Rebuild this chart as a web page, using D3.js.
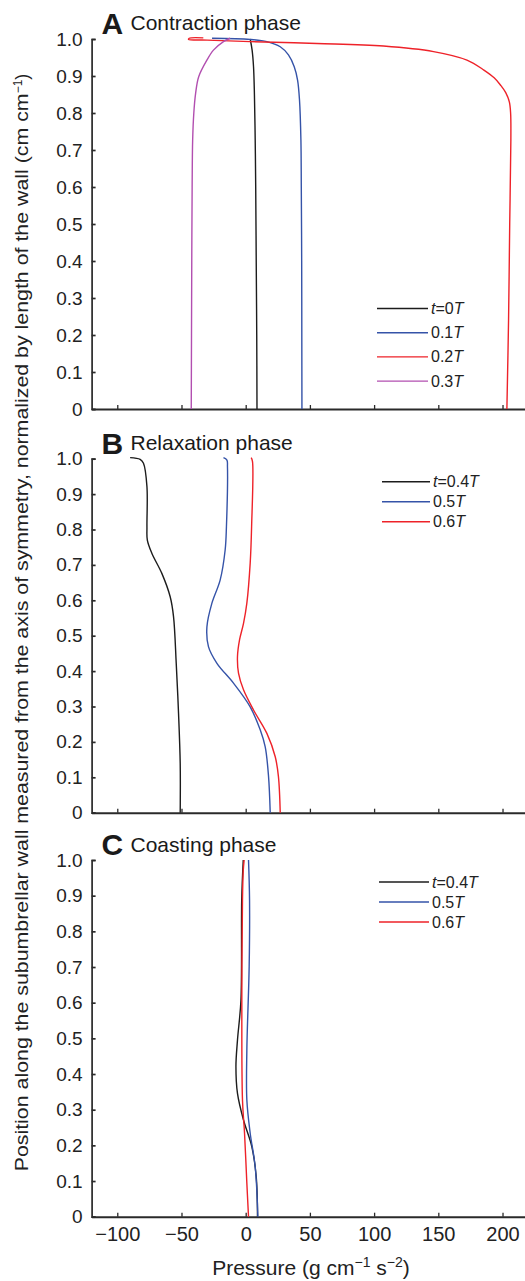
<!DOCTYPE html>
<html><head><meta charset="utf-8">
<script src="https://cdn.jsdelivr.net/npm/d3@7"></script>
<style>
html,body{margin:0;padding:0;background:#fff;}
svg{display:block;font-family:"Liberation Sans",Arial,sans-serif;}
</style></head>
<body>
<svg id="chart" width="525" height="1281"></svg>
<script>
// ---------- DATA ([position, pressure]) ----------
const xTicks = [-100, -50, 0, 50, 100, 150, 200];
const yTicks = [0, 0.1, 0.2, 0.3, 0.4, 0.5, 0.6, 0.7, 0.8, 0.9, 1.0];

const panelTitles = ["Contraction phase", "Relaxation phase", "Coasting phase"];
const panelLetters = ["A", "B", "C"];

const legendA = [["t", "=0", "T"], ["", "0.1", "T"], ["", "0.2", "T"], ["", "0.3", "T"]];
const legendB = [["t", "=0.4", "T"], ["", "0.5", "T"], ["", "0.6", "T"]];
const legendC = [["t", "=0.4", "T"], ["", "0.5", "T"], ["", "0.6", "T"]];

// Panel A: contraction
const contractT0 = [[0,8.8],[0.2,8.6],[0.4,8.2],[0.6,7.8],[0.727,7.4],[0.85,6.8],[0.925,6.1],[0.97,5],[1.0,3.5]];
const contractT1 = [[0,43.8],[0.2,43.7],[0.4,43.6],[0.6,43.3],[0.727,43.0],[0.835,41.9],[0.889,40.4],[0.925,37.8],[0.957,33.3],[0.979,26.9],[0.993,16.5],[0.999,3.5],[1.002,-26.2]];
const contractT2 = [[0,203.4],[0.24,204.7],[0.5,205.6],[0.727,206.5],[0.80,206.3],[0.83,205.3],[0.855,202.5],[0.875,198.5],[0.895,193.5],[0.916,185.5],[0.943,172.3],[0.966,146.3],[0.981,107.3],[0.988,55.5],[0.993,3.5],[0.997,-30],[0.999,-44.5],[1.002,-44],[1.003,-33]];
const contractT3 = [[0,-42.4],[0.2,-42.2],[0.4,-42.0],[0.6,-41.7],[0.727,-41.3],[0.8,-40.4],[0.853,-39.0],[0.898,-36.6],[0.943,-30.2],[0.970,-25.1],[0.993,-17.3],[1.002,-12.1]];

// Panel B: relaxation
const relaxT4 = [[0,-51.0],[0.140,-51.0],[0.281,-52.3],[0.422,-54.1],[0.554,-56.2],[0.610,-58.8],[0.676,-65.3],[0.733,-73.1],[0.770,-76.6],[0.808,-76.9],[0.921,-76.9],[0.987,-79.6],[0.998,-82.2],[1.003,-90]];
const relaxT5 = [[0,19.1],[0.102,17.8],[0.186,15.2],[0.234,11.3],[0.299,3.5],[0.366,-9.5],[0.422,-22.4],[0.469,-29.0],[0.525,-30.2],[0.592,-26.3],[0.657,-19.9],[0.742,-16.0],[0.808,-15.0],[0.977,-14.2],[0.996,-14.6],[1.003,-17.3]];
const relaxT6 = [[0,26.9],[0.102,25.5],[0.158,23.0],[0.224,16.5],[0.290,6.1],[0.347,-1.7],[0.394,-5.6],[0.441,-6.4],[0.488,-4.8],[0.535,-1.7],[0.592,0.9],[0.705,3.5],[0.808,4.6],[0.992,5.3],[1.003,4.3]];

// Panel C: coasting
const coastT4 = [[0,9.2],[0.112,8.2],[0.196,4.8],[0.271,-1.7],[0.346,-6.4],[0.421,-7.6],[0.495,-6.4],[0.607,-3.7],[0.888,-3.1],[1.0,-1.9]];
const coastT5 = [[0,9.5],[0.140,7.4],[0.234,3.5],[0.327,0.9],[0.467,0.9],[0.701,2.7],[0.888,3.0],[1.0,2.2]];
const coastT6 = [[0,2.2],[0.094,0.9],[0.234,-0.9],[0.327,-2.5],[0.607,-3.0],[0.888,-2.5],[0.97,-1.9],[1.0,-1.2]];

const colors = {black:"#1c1c1c", blue:"#3553a8", red:"#ee2229", magenta:"#b24fb0"};

// ---------- LAYOUT ----------
const svg = d3.select("#chart");
const axisColor = "#2a2a2a";
const x = d3.scaleLinear().domain([-120, 220]).range([91.6, 528.2]);

const panels = [
  {top:39, bottom:409, series:[[contractT0,colors.black],[contractT1,colors.blue],[contractT2,colors.red],[contractT3,colors.magenta]],
   legend:legendA, legendColors:[colors.black,colors.blue,colors.red,colors.magenta], legY:308.5, legStep:24.2, legX1:377, legX2:428, titleY:30, letterY:33.5},
  {top:458.7, bottom:812.7, series:[[relaxT4,colors.black],[relaxT5,colors.blue],[relaxT6,colors.red]],
   legend:legendB, legendColors:[colors.black,colors.blue,colors.red], legY:481.7, legStep:20, legX1:382, legX2:430, titleY:450, letterY:453.5},
  {top:860, bottom:1216.7, series:[[coastT4,colors.black],[coastT5,colors.blue],[coastT6,colors.red]],
   legend:legendC, legendColors:[colors.black,colors.blue,colors.red], legY:882, legStep:20, legX1:379, legX2:429, titleY:851.5, letterY:855}
];

panels.forEach((p, i) => {
  const y = d3.scaleLinear().domain([0, 1]).range([p.bottom, p.top]);
  const g = svg.append("g");

  // y axis
  const yAxis = d3.axisLeft(y).tickValues(yTicks).tickSize(-4).tickSizeOuter(-4).tickPadding(9)
    .tickFormat(d => d === 0 ? "0" : d3.format(".1f")(d));
  const ya = g.append("g").attr("transform", `translate(${x.range()[0]},0)`).call(yAxis);
  ya.selectAll("path,line").attr("stroke", axisColor).attr("stroke-width", 1.7);
  ya.selectAll("text").attr("font-size", 19).attr("fill", "#222").attr("font-family", "Liberation Sans, Arial, sans-serif");

  // x axis
  const xAxis = d3.axisBottom(x).tickValues(xTicks).tickSize(-4).tickSizeOuter(0).tickPadding(10)
    .tickFormat(d => d < 0 ? "\u2212" + Math.abs(d) : String(d));
  const xa = g.append("g").attr("transform", `translate(0,${p.bottom})`).call(xAxis);
  xa.select("path.domain").attr("stroke", axisColor).attr("stroke-width", 1.9);
  xa.selectAll("line").attr("stroke", axisColor).attr("stroke-width", 1.3);
  xa.selectAll("text").attr("font-size", 20).attr("fill", "#222").attr("font-family", "Liberation Sans, Arial, sans-serif")
    .attr("dy", "0.71em");
  if (i < 2) xa.selectAll("text").remove();

  // lines
  const line = d3.line().x(d => x(d[1])).y(d => y(d[0])).curve(d3.curveCatmullRom.alpha(0.5));
  p.series.forEach(([data, col]) => {
    g.append("path").datum(data).attr("d", line).attr("fill", "none")
      .attr("stroke", col).attr("stroke-width", 1.4).attr("stroke-linejoin", "round");
  });

  // title
  g.append("text").attr("x", 101.5).attr("y", p.letterY).attr("font-size", 30).attr("font-weight", "bold")
    .attr("fill", "#1a1a1a").text(panelLetters[i]);
  g.append("text").attr("x", 130.5).attr("y", p.titleY).attr("font-size", 21).attr("fill", "#1a1a1a").text(panelTitles[i]);

  // legend
  p.legend.forEach((lab, k) => {
    const ly = p.legY + k * p.legStep;
    g.append("line").attr("x1", p.legX1).attr("x2", p.legX2).attr("y1", ly).attr("y2", ly)
      .attr("stroke", p.legendColors[k]).attr("stroke-width", 1.4);
    const t = g.append("text").attr("x", p.legX2 + 3).attr("y", ly + 5.5).attr("font-size", 16).attr("fill", "#222");
    if (lab[0]) t.append("tspan").attr("font-style", "italic").text(lab[0]);
    t.append("tspan").text(lab[1]);
    t.append("tspan").attr("font-style", "italic").text(lab[2]);
  });
});

// x axis title
const xt = svg.append("text").attr("x", 311).attr("y", 1275).attr("text-anchor", "middle")
  .attr("font-size", 21).attr("fill", "#222");
xt.append("tspan").text("Pressure (g cm");
xt.append("tspan").attr("font-size", 14).attr("dy", -8).text("\u22121");
xt.append("tspan").attr("dy", 8).text(" s");
xt.append("tspan").attr("font-size", 14).attr("dy", -8).text("\u22122");
xt.append("tspan").attr("dy", 8).text(")");

// y axis title
const yt = svg.append("text").attr("transform", "translate(28,622.5) rotate(-90)").attr("text-anchor", "middle")
  .attr("font-size", 18).attr("fill", "#222");
yt.append("tspan").text("Position along the subumbrellar wall measured from the axis of symmetry, normalized by length of the wall (cm cm")
  .attr("textLength", 1078).attr("lengthAdjust", "spacingAndGlyphs");
yt.append("tspan").attr("font-size", 12).attr("dy", -6).text("\u22121");
yt.append("tspan").attr("dy", 6).text(")");
</script>
</body></html>
